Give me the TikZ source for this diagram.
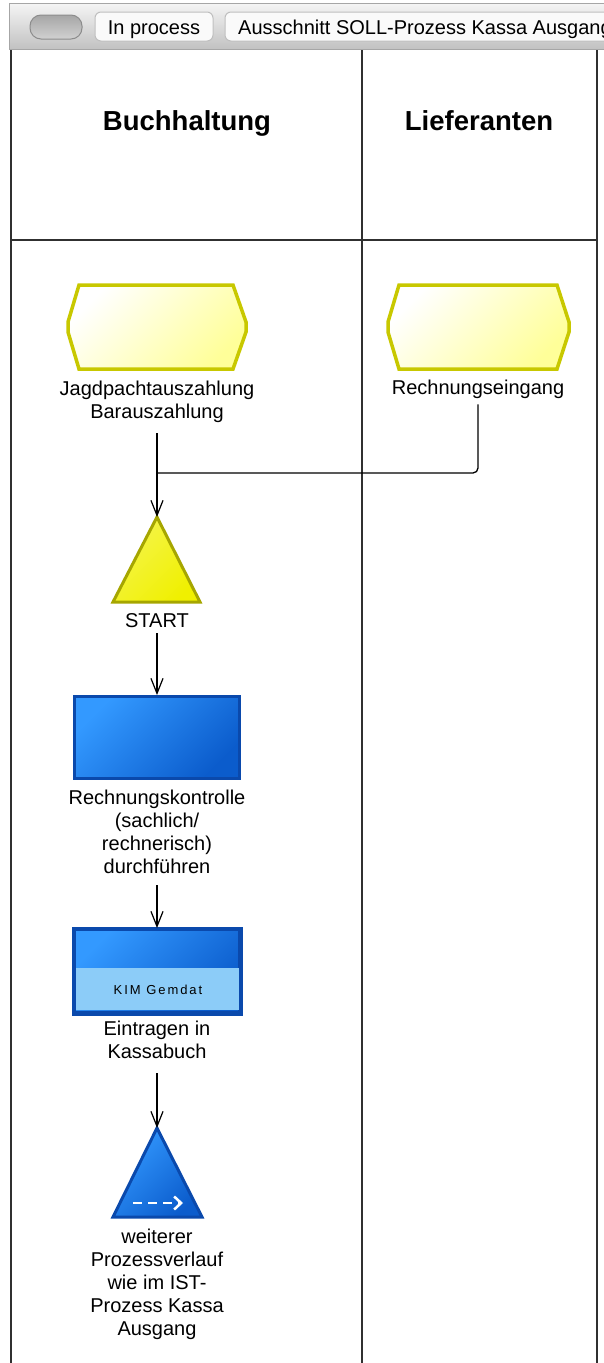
\documentclass[tikz,border=0pt]{standalone}
\usepackage{fontspec}
\setmainfont{Liberation Sans}
\newfontfamily\kimfont[LetterSpace=15]{Liberation Sans}
\usetikzlibrary{arrows.meta}
\definecolor{evborder}{HTML}{C8C800}
\definecolor{evfill}{HTML}{FFFF99}
\definecolor{stborder}{HTML}{A6A600}
\definecolor{stfill}{HTML}{F0F000}
\definecolor{fnborder}{HTML}{0A49AC}
\definecolor{fnlight}{HTML}{3399FF}
\definecolor{fndark}{HTML}{0B5CCC}
\definecolor{sysfill}{HTML}{8CCCF8}
\definecolor{laneline}{HTML}{303030}
\newcommand\mlines[1]{\begin{tabular}[t]{@{}c@{}}#1\end{tabular}}
\begin{document}
\begin{tikzpicture}[x=1pt,y=-1pt,
  lab/.style={font=\fontsize{20}{23}\selectfont, inner sep=0pt, anchor=base},
  head/.style={font=\fontsize{27.5}{31}\selectfont\bfseries, inner sep=0pt, anchor=base},
  tabtext/.style={font=\fontsize{20}{23}\selectfont, inner sep=0pt, anchor=base},
  flow/.style={draw=black, line width=1.3pt, -{Straight Barb[length=15pt,width=12pt,line width=1.2pt]}},
  joinline/.style={draw=black, line width=1.3pt, rounded corners=5pt},
  lane/.style={draw=laneline, line width=1.5pt},
  event/.style={draw=evborder, line width=3.5pt, line join=miter, top color=white, bottom color=evfill, shading angle=45},
  startev/.style={draw=stborder, line width=3pt, line join=miter, top color=stfill!70, bottom color=stfill, shading angle=45},
  func/.style={draw=fnborder, line width=3pt, top color=fnlight, bottom color=fndark, shading angle=45},
]
\useasboundingbox (0,0) rectangle (604,1363);
% top bar
\begin{scope}
\clip (0,0) rectangle (604,1363);
\path[top color=black!4, bottom color=black!24, draw=black!35, line width=1pt] (9,3) rectangle (620,49);
\path[top color=black!35, bottom color=black!18, draw=black!45, line width=1pt, rounded corners=11pt] (30,15) rectangle (82,39);
\path[fill=black!2, draw=black!25, line width=1pt, rounded corners=6pt] (95,12) rectangle (213,41);
\path[fill=black!2, draw=black!25, line width=1pt, rounded corners=6pt] (225,12) rectangle (640,41);
\node[tabtext] (tab1) at (154,34) {In process};
\node[tabtext, anchor=base west] (tab2) at (238,34) {Ausschnitt SOLL-Prozess Kassa Ausgang};
\end{scope}
% lanes
\draw[lane] (11,50) -- (11,1363);
\draw[lane] (362,50) -- (362,1363);
\draw[lane] (597,50) -- (597,1363);
\draw[lane] (11,240) -- (597,240);
\node[head] (h1) at (187,130) {Buchhaltung};
\node[head] (h2) at (479,130) {Lieferanten};
% events
\path[event] (79,285) -- (233,285) -- (246,322) -- (246,332) -- (233,369) -- (79,369) -- (68,332) -- (68,322) -- cycle;
\path[event] (399,285) -- (557,285) -- (569,322) -- (569,332) -- (557,369) -- (399,369) -- (388,332) -- (388,322) -- cycle;
\node[lab] (jlab) at (157,395) {\mlines{Jagdpachtauszahlung\\Barauszahlung}};
\node[lab] (rlab) at (478,394) {Rechnungseingang};
% start triangle
\coordinate (startapex) at (157,517);
\path[startev] (startapex) -- (200,602) -- (113,602) -- cycle;
\node[lab] (slab) at (157,627) {START};
% function 1
\node[func, minimum width=165pt, minimum height=82pt, inner sep=0pt, anchor=north] (f1) at (157,695) {};
\node[lab] (f1lab) at (157,804) {\mlines{Rechnungskontrolle\\(sachlich/\\rechnerisch)\\durchführen}};
% function 2
\node[func, minimum width=165pt, minimum height=83pt, inner sep=0pt, anchor=north] (f2) at (157,928) {};
\path[fill=sysfill] (75.5,968) rectangle (238.5,1009.5);
\draw[fnborder, line width=3pt] (f2.north west) rectangle (f2.south east);
\node[font=\kimfont\fontsize{13}{15}\selectfont, inner sep=0pt, anchor=base] (kim) at (158,994) {KIM Gemdat};
\node[lab] (f2lab) at (157,1035) {\mlines{Eintragen in\\Kassabuch}};
% end triangle
\coordinate (endapex) at (157,1128);
\path[func] (endapex) -- (202,1217) -- (113,1217) -- cycle;
\coordinate (da) at (133,1203);
\coordinate (db) at (183,1203);
\draw[white, line width=2.5pt, dash pattern=on 9pt off 6pt, -{Straight Barb[length=7pt,width=13pt,line width=2.5pt]}] (da) -- (db);
\node[lab] (elab) at (157,1243) {\mlines{weiterer\\Prozessverlauf\\wie im IST-\\Prozess Kassa\\Ausgang}};
% connectors
\coordinate (join) at (157,473);
\draw[joinline, shorten <=6pt] (rlab.south) |- (join);
\draw[flow, shorten <=8pt] (jlab.south) -- (startapex);
\draw[flow, shorten <=6pt] (slab.south) -- (f1.north);
\draw[flow, shorten <=5pt] (f1lab.south) -- (f2.north);
\draw[flow, shorten <=8pt] (f2lab.south) -- (endapex);
\end{tikzpicture}
\end{document}
